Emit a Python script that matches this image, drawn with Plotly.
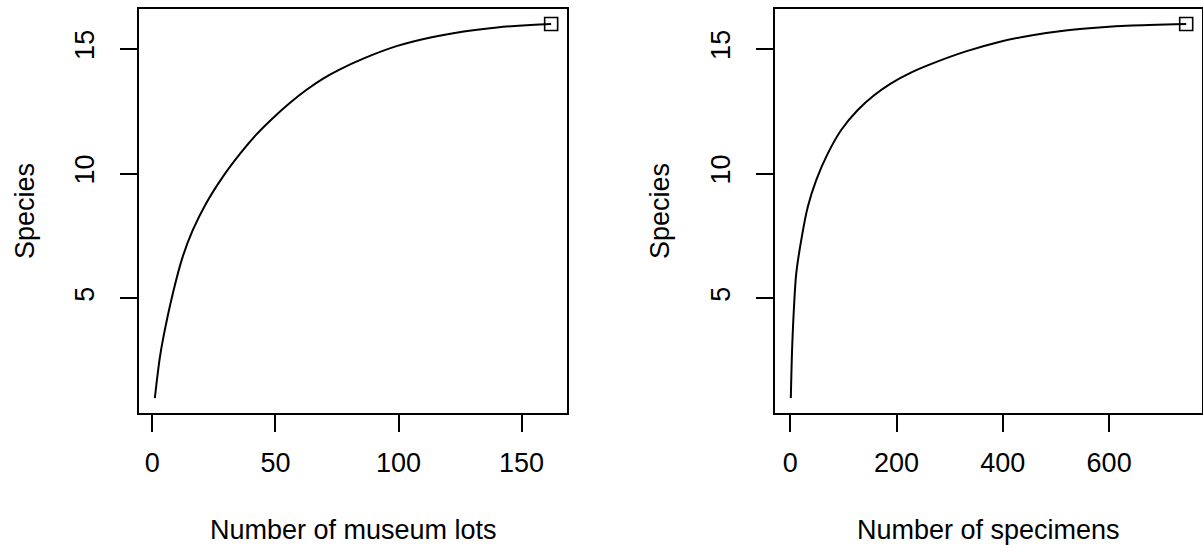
import plotly.graph_objects as go

# Left panel: species vs number of museum lots
lots_x = [1, 2, 3, 4.2, 8.3, 12.3, 16.4, 21.8, 28.6, 35.4, 42.1, 48.9, 55.7, 62.5,
          69.2, 76, 85.9, 99.5, 113, 126.5, 140, 153.7, 162]
lots_y = [1, 1.85, 2.6, 3.3, 5.19, 6.66, 7.73, 8.80, 9.87, 10.77, 11.55, 12.22, 12.82,
          13.35, 13.80, 14.17, 14.62, 15.12, 15.46, 15.70, 15.86, 15.96, 16]

# Right panel: species vs number of specimens
spec_x = [1, 2, 3, 5, 7, 11.2, 20.6, 33, 48.8, 70.7, 95.8, 127, 158.3, 189.7, 227,
          268, 330.5, 393, 455.6, 518, 581, 643, 706, 745]
spec_y = [1, 1.9, 2.7, 3.8, 4.65, 5.99, 7.33, 8.67, 9.74, 10.81, 11.75, 12.55, 13.15,
          13.62, 14.05, 14.42, 14.90, 15.28, 15.55, 15.74, 15.86, 15.94, 15.98, 16]

lots_ticks = [0, 50, 100, 150]
spec_ticks = [0, 200, 400, 600]
species_ticks = [5, 10, 15]

x_title_left = "Number of museum lots"
x_title_right = "Number of specimens"
y_title = "Species"

W, H = 1203, 545
FONT = dict(family="Liberation Sans, Arial, sans-serif", size=27, color="black")


def rrange(lo, hi):
    d = (hi - lo) * 0.04
    return [lo - d, hi + d]


fig = go.Figure()
fig.add_trace(go.Scatter(x=lots_x, y=lots_y, mode="lines", line=dict(color="black", width=2, shape="spline", smoothing=1.0),
                         xaxis="x", yaxis="y", showlegend=False, hoverinfo="skip"))
fig.add_trace(go.Scatter(x=[lots_x[-1]], y=[lots_y[-1]], mode="markers",
                         marker=dict(symbol="square-open", size=13, color="black", line=dict(width=1.6)),
                         xaxis="x", yaxis="y", showlegend=False))
fig.add_trace(go.Scatter(x=spec_x, y=spec_y, mode="lines", line=dict(color="black", width=2, shape="spline", smoothing=1.0),
                         xaxis="x2", yaxis="y2", showlegend=False, hoverinfo="skip"))
fig.add_trace(go.Scatter(x=[spec_x[-1]], y=[spec_y[-1]], mode="markers",
                         marker=dict(symbol="square-open", size=13, color="black", line=dict(width=1.6)),
                         xaxis="x2", yaxis="y2", showlegend=False))

dom_y = [1 - 413 / H, 1 - 9 / H]
dom_x1 = [139 / W, 567 / W]
dom_x2 = [775 / W, 1202 / W]

common = dict(showgrid=False, zeroline=False, showline=True, linecolor="black", linewidth=2,
              mirror=True, ticks="outside", ticklen=17, tickwidth=2, tickcolor="black",
              tickfont=FONT)

fig.update_layout(
    width=W, height=H,
    margin=dict(l=0, r=0, t=0, b=0),
    paper_bgcolor="white", plot_bgcolor="white",
    xaxis=dict(domain=dom_x1, range=rrange(min(lots_x), max(lots_x)), tickvals=lots_ticks,
               anchor="y", ticklabelstandoff=8, **common),
    yaxis=dict(domain=dom_y, range=rrange(min(lots_y), max(lots_y)), tickvals=species_ticks,
               anchor="x", tickangle=-90, ticklabelstandoff=15, **common),
    xaxis2=dict(domain=dom_x2, range=rrange(min(spec_x), max(spec_x)), tickvals=spec_ticks,
                anchor="y2", ticklabelstandoff=8, **common),
    yaxis2=dict(domain=dom_y, range=rrange(min(spec_y), max(spec_y)), tickvals=species_ticks,
                anchor="x2", tickangle=-90, ticklabelstandoff=15, **common),
    annotations=[
        dict(text=x_title_left, x=(dom_x1[0] + dom_x1[1]) / 2, y=1 - 530 / H, xref="paper", yref="paper",
             xanchor="center", yanchor="middle", showarrow=False, font=FONT),
        dict(text=x_title_right, x=(dom_x2[0] + dom_x2[1]) / 2, y=1 - 530 / H, xref="paper", yref="paper",
             xanchor="center", yanchor="middle", showarrow=False, font=FONT),
        dict(text=y_title, x=25 / W, y=(dom_y[0] + dom_y[1]) / 2, xref="paper", yref="paper",
             xanchor="center", yanchor="middle", showarrow=False, textangle=-90, font=FONT),
        dict(text=y_title, x=660 / W, y=(dom_y[0] + dom_y[1]) / 2, xref="paper", yref="paper",
             xanchor="center", yanchor="middle", showarrow=False, textangle=-90, font=FONT),
    ],
)

fig.write_html("out.html", config={"displayModeBar": False},
               post_script="document.body.style.margin='0';document.body.style.overflow='hidden';")
